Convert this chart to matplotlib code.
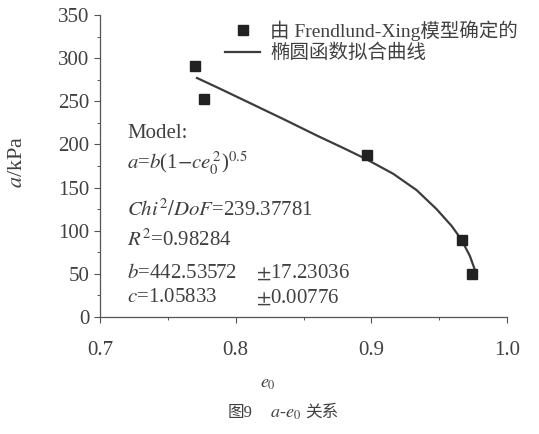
import matplotlib
matplotlib.use('Agg')
from matplotlib import pyplot as plt
from matplotlib.ticker import MultipleLocator

# measured points (e0, a/kPa)
e0_points = [0.770, 0.777, 0.897, 0.967, 0.974]
a_points = [291, 253, 188, 89, 50]

# fitted ellipse curve
e0_curve = [0.7715, 0.7872, 0.8118, 0.8363, 0.8609, 0.8805, 0.8968, 0.9161,
            0.9334, 0.9481, 0.9592, 0.9665, 0.9727, 0.9764]
a_curve = [277.0, 265.5, 247.0, 228.5, 209.5, 195.0, 182.5, 166.0,
           147.0, 125.0, 105.5, 89.5, 70.5, 54.3]

x_ticks = [0.7, 0.8, 0.9, 1.0]
y_ticks = [0, 50, 100, 150, 200, 250, 300, 350]

fit_lines = [
    ('Model:', ''),
    (r'$a$=$b$(1$-$$ce_0^{\,2}$)$^{0.5}$', ''),
    (r'$Chi^2/DoF$=239.37781', ''),
    (r'$R^2$=0.98284', ''),
    (r'$b$=442.53572', r'$\pm$17.23036'),
    (r'$c$=1.05833', r'$\pm$0.00776'),
]
fit_y = [133, 163, 210, 240, 273, 298]  # pixel rows of the text block

text_color = '#404040'
plt.rcParams['font.family'] = ['Liberation Serif', 'Noto Sans CJK SC']
plt.rcParams['mathtext.fontset'] = 'stix'

W, H = 539, 434
fig = plt.figure(figsize=(W / 100, H / 100), dpi=100)
ax = fig.add_axes([100 / W, 1 - 317 / H, 407 / W, 302 / H])

ax.plot(e0_curve, a_curve, color='#3c3c3c', lw=1.6, label='椭圆函数拟合曲线',
        solid_joinstyle='round')
ax.plot(e0_points, a_points, ls='none', marker='s', ms=7.5, color='#222222',
        label='由 Frendlund-Xing模型确定的')

ax.set_xlim(0.7, 1.0)
ax.set_ylim(0, 350)
ax.set_xticks(x_ticks)
ax.set_xticklabels([f'{v:.1f}' for v in x_ticks])
ax.set_yticks(y_ticks)
ax.xaxis.set_minor_locator(MultipleLocator(0.05))
ax.yaxis.set_minor_locator(MultipleLocator(25))
ax.tick_params(which='major', direction='out', length=4, width=0.8, colors='#555555',
               labelcolor=text_color, labelsize=15)
ax.tick_params(which='minor', direction='out', length=2.5, width=0.7, colors='#555555')
ax.tick_params(axis='x', pad=13)
ax.spines['top'].set_visible(False)
ax.spines['right'].set_visible(False)
for s in ('left', 'bottom'):
    ax.spines[s].set_color('#555555')
    ax.spines[s].set_linewidth(0.9)

# legend with markers first
handles, labels = ax.get_legend_handles_labels()
leg = ax.legend(handles[::-1], labels[::-1], loc='upper left', bbox_to_anchor=(0.265, 1.04),
                frameon=False, fontsize=14, handlelength=1.8, handletextpad=0.5,
                labelspacing=0.15, labelcolor=text_color)

# fit summary text block
for (left, right), py in zip(fit_lines, fit_y):
    fig.text(127 / W, 1 - py / H, left, fontsize=15, color=text_color, va='center')
    if right:
        fig.text(256 / W, 1 - py / H, right, fontsize=15, color=text_color, va='center')

# axis labels
fig.text(18 / W, 1 - 162 / H, r'$a$/kPa', rotation=90, fontsize=16, color=text_color,
         ha='center', va='center')
fig.text(268 / W, 1 - 384 / H, r'$e_0$', fontsize=13, color=text_color, ha='center', va='center')

# caption
fig.text(228 / W, 1 - 413 / H, '图9', fontsize=12, color=text_color, va='center')
fig.text(270 / W, 1 - 413 / H, r'$a$-$e_0$', fontsize=13, color=text_color, va='center')
fig.text(305 / W, 1 - 413 / H, '关系', fontsize=12, color=text_color, va='center')

fig.savefig('out.png', dpi=100)
